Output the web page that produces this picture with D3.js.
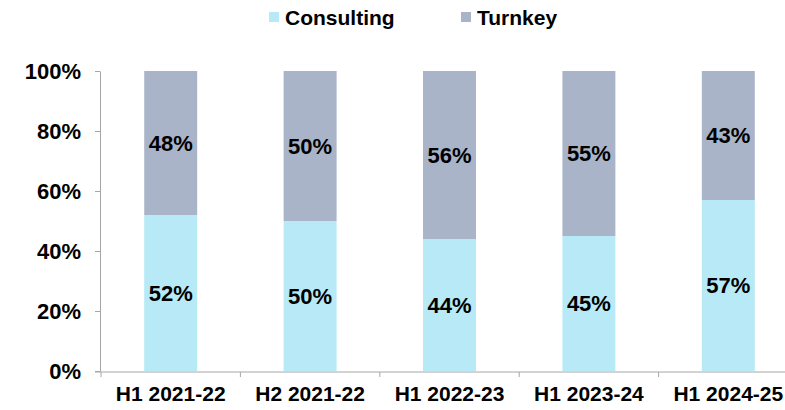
<!DOCTYPE html>
<html>
<head>
<meta charset="utf-8">
<script src="https://cdn.jsdelivr.net/npm/d3@7"></script>
<style>
  body { margin: 0; background: #fff; }
  text { font-family: "Liberation Sans", Arial, sans-serif; font-weight: bold; fill: #000; }
</style>
</head>
<body>
<svg id="chart" width="785" height="410"></svg>
<script>
// Dữ liệu
const categories = ["H1 2021-22", "H2 2021-22", "H1 2022-23", "H1 2023-24", "H1 2024-25"];
const consulting = [52, 50, 44, 45, 57];
const turnkey = [48, 50, 56, 55, 43];
const yTicks = [0, 20, 40, 60, 80, 100];
const seriesNames = ["Consulting", "Turnkey"];
const colors = ["#b7eaf6", "#aab4c8"];

const data = categories.map((c, i) => ({cat: c, Consulting: consulting[i], Turnkey: turnkey[i]}));
const stacked = d3.stack().keys(seriesNames)(data);

const svg = d3.select("#chart");
const plotLeft = 101, plotRight = 798, plotTop = 71, plotBottom = 371;

// Thang đo
const x = d3.scaleBand().domain(categories).range([plotLeft, plotRight]).padding(0);
const y = d3.scaleLinear().domain([0, 100]).range([plotBottom, plotTop]);
const barW = x.bandwidth() * 0.38;

// Cột chồng
stacked.forEach((s, si) => {
  svg.append("g").selectAll("rect")
    .data(s)
    .enter().append("rect")
      .attr("x", d => x(d.data.cat) + (x.bandwidth() - barW) / 2)
      .attr("y", d => y(d[1]))
      .attr("width", barW)
      .attr("height", d => y(d[0]) - y(d[1]))
      .attr("fill", colors[si]);

  svg.append("g").selectAll("text")
    .data(s)
    .enter().append("text")
      .attr("x", d => x(d.data.cat) + x.bandwidth() / 2)
      .attr("y", d => (y(d[0]) + y(d[1])) / 2)
      .attr("dy", "0.36em")
      .attr("text-anchor", "middle")
      .style("font-size", "22px")
      .text(d => (d[1] - d[0]) + "%");
});

// Trục Y
const yAxis = svg.append("g")
  .attr("transform", `translate(${plotLeft - 1},0)`)
  .call(d3.axisLeft(y).tickValues(yTicks).tickFormat(d => d + "%").tickSize(5).tickSizeOuter(0).tickPadding(14));
yAxis.selectAll("text").style("font-size", "22px");
yAxis.selectAll("line, path").attr("stroke", "#a6a6a6");

// Trục X
const xAxis = svg.append("g")
  .attr("transform", `translate(0,${plotBottom + 1})`)
  .call(d3.axisBottom(x).tickSize(0).tickPadding(14));
xAxis.selectAll("text").style("font-size", "21px");
xAxis.select("path").attr("stroke", "#a6a6a6").attr("d", `M${plotLeft - 6},0H${plotRight}`);
// vạch chia giữa các nhóm
xAxis.selectAll("line.sep")
  .data(categories)
  .enter().append("line")
    .attr("class", "sep")
    .attr("x1", d => x(d)).attr("x2", d => x(d))
    .attr("y1", 0).attr("y2", 5)
    .attr("stroke", "#a6a6a6");

// Chú thích
const legendX = [269, 461];
const legend = svg.append("g");
seriesNames.forEach((n, i) => {
  legend.append("rect")
    .attr("x", legendX[i]).attr("y", 12)
    .attr("width", 10).attr("height", 10)
    .attr("fill", colors[i]);
  legend.append("text")
    .attr("x", legendX[i] + 16).attr("y", 25)
    .style("font-size", "21px")
    .text(n);
});
</script>
</body>
</html>
